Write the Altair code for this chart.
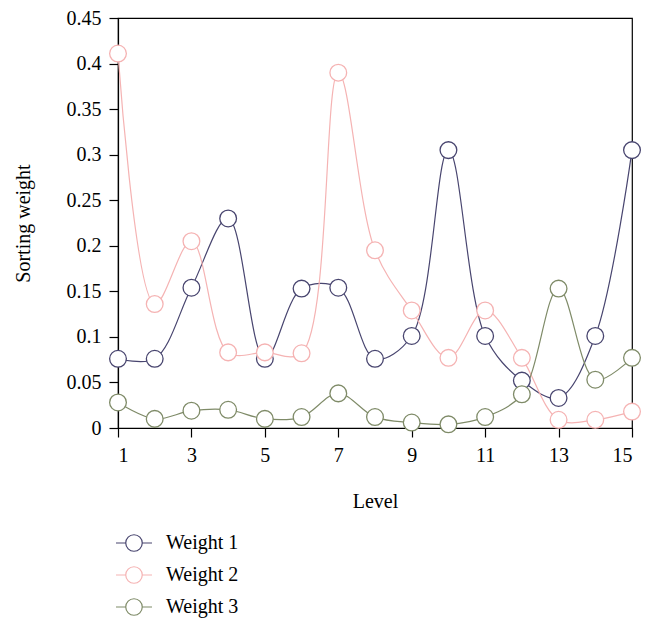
import altair as alt
import pandas as pd

levels = list(range(1, 16))
weight1 = [0.076, 0.076, 0.154, 0.230, 0.076, 0.153, 0.154, 0.076, 0.101, 0.305, 0.101, 0.052, 0.033, 0.101, 0.305]
weight2 = [0.411, 0.136, 0.205, 0.083, 0.083, 0.082, 0.390, 0.195, 0.129, 0.077, 0.129, 0.077, 0.009, 0.009, 0.018]
weight3 = [0.028, 0.010, 0.019, 0.020, 0.010, 0.012, 0.038, 0.012, 0.006, 0.004, 0.012, 0.037, 0.153, 0.053, 0.077]
series_names = ["Weight 1", "Weight 2", "Weight 3"]
series_colors = ["#48456f", "#f5b3b3", "#7f8b68"]
x_ticks = [1, 3, 5, 7, 9, 11, 13, 15]
y_ticks = [0, 0.05, 0.1, 0.15, 0.2, 0.25, 0.3, 0.35, 0.4, 0.45]

rows = []
for name, vals in zip(series_names, [weight1, weight2, weight3]):
    for lv, v in zip(levels, vals):
        rows.append({"Level": lv, "value": v, "series": name})
df = pd.DataFrame(rows)

FONT = "Liberation Serif"

x = alt.X("Level:Q", scale=alt.Scale(domain=[1, 15], nice=False, zero=False),
          axis=alt.Axis(values=x_ticks, title="Level", titlePadding=26))
y = alt.Y("value:Q", scale=alt.Scale(domain=[0, 0.45], nice=False),
          axis=alt.Axis(values=y_ticks, title="Sorting weight", titlePadding=33,
                        labelExpr="format(datum.value, '.2~f')"))

symbol_path = ("M -0.55 0 A 0.55 0.55 0 1 1 0.55 0 A 0.55 0.55 0 1 1 -0.55 0 Z "
               "M -1.2 0 L -0.55 0 M 0.55 0 L 1.2 0")

legend = alt.Legend(title=None, orient="none", legendX=0, legendY=509,
                    symbolType=symbol_path, symbolSize=900,
                    symbolFillColor="white", symbolStrokeWidth=1.2,
                    labelFont=FONT, labelFontSize=20, labelColor="black",
                    labelOffset=16, rowPadding=5, padding=0)
stroke = alt.Stroke("series:N", scale=alt.Scale(domain=series_names, range=series_colors),
                    legend=legend)

lines = alt.Chart(df).mark_line(interpolate="catmull-rom", strokeWidth=1.2).encode(
    x=x, y=y, stroke=stroke, detail="series:N",
)
points = alt.Chart(df).mark_point(filled=False, size=280, strokeWidth=1.3, fill="white",
                                  fillOpacity=1, opacity=1).encode(
    x=x, y=y, stroke=stroke,
)

chart = alt.layer(lines, points).properties(
    width=514, height=410,
    padding={"left": 110, "top": 10, "right": 13, "bottom": 191},
    autosize=alt.AutoSizeParams(type="none"),
).configure_view(stroke="black", strokeWidth=1.2).configure_axis(
    grid=False, domainColor="black", tickColor="black", tickSize=9,
    labelFont=FONT, labelFontSize=20, labelColor="black", labelPadding=8,
    titleFont=FONT, titleFontSize=20, titleFontWeight="normal", titleColor="black",
    domainWidth=1.2, tickWidth=1.2,
)

chart.save("out.html", embed_options={"renderer": "svg", "actions": False})
